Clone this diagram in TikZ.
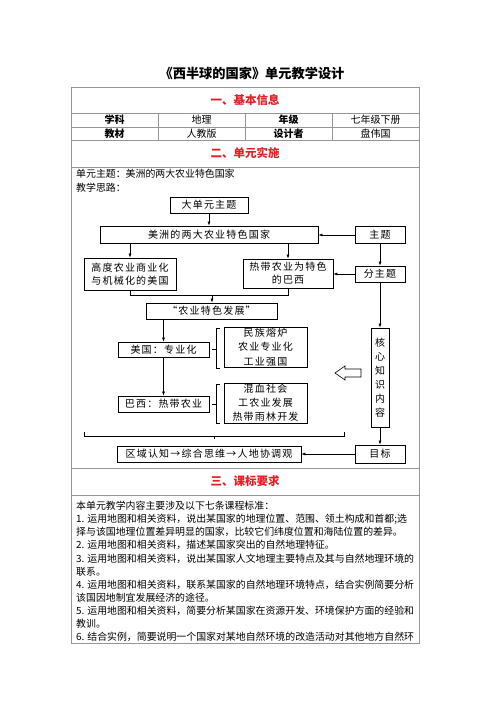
\documentclass[tikz,border=0pt]{standalone}
\usepackage{fontspec}
\setmainfont{Noto Sans CJK SC}
\newfontfamily\boxfont[LetterSpace=12]{Noto Sans CJK SC}
\usetikzlibrary{arrows.meta}
\definecolor{headred}{RGB}{228,30,36}
\definecolor{rulegray}{RGB}{150,150,150}

\begin{document}
\begin{tikzpicture}[x=1pt, y=-1pt,
    box/.style={draw, line width=0.7pt, inner sep=0pt, align=center, font=\boxfont\fontsize{10}{13}\selectfont},
    arr/.style={-{Latex[length=4pt,width=3pt]}, line width=0.6pt},
    rule/.style={draw=rulegray, line width=0.6pt},
    head/.style={text=headred, font=\fontsize{11.5}{14}\selectfont\bfseries},
    cell/.style={font=\fontsize{10}{12}\selectfont},
    bcell/.style={font=\fontsize{10}{12}\selectfont\bfseries},
    body/.style={anchor=west, inner sep=0pt, font=\fontsize{9.9}{13}\selectfont}]

  \useasboundingbox (0,0) rectangle (500,707);

  % title and table frame
  \node[font=\fontsize{13.2}{16}\selectfont\bfseries] (title) at (252,73) {《西半球的国家》单元教学设计};
  \draw[rule] (71,87) rectangle (419,643);
  \foreach \y in {113,127,140,167,468,495}
    \draw[rule] (71,\y) -- (419,\y);
  \foreach \x in {158,245,332}
    \draw[rule] (\x,113) -- (\x,140);

  % basic info
  \node[head] (sec1) at (245,100.5) {一、基本信息};
  \node[bcell] (subj) at (114.5,120) {学科};
  \node[cell] (subjv) at (201.5,120) {地理};
  \node[bcell] (grade) at (288.5,120) {年级};
  \node[cell] (gradev) at (375.5,120) {七年级下册};
  \node[bcell] (book) at (114.5,133.5) {教材};
  \node[cell] (bookv) at (201.5,133.5) {人教版};
  \node[bcell] (auth) at (288.5,133.5) {设计者};
  \node[cell] (authv) at (375.5,133.5) {盘伟国};

  % unit plan
  \node[head] (sec2) at (245,153.5) {二、单元实施};
  \node[body] (topic) at (76,174) {单元主题：美洲的两大农业特色国家};
  \node[body] (idea) at (76,187.3) {教学思路：};

  \node[box, minimum width=78, minimum height=16] (big) at (209,205) {大单元主题};
  \node[box, minimum width=218, minimum height=17] (theme) at (209,234.5) {美洲的两大农业特色国家};
  \node[box, minimum width=50, minimum height=16.5] (zhuti) at (380,235) {主题};
  \node[box, minimum width=92, minimum height=32] (us) at (130,274) {高度农业商业化\\与机械化的美国};
  \node[box, minimum width=90, minimum height=29] (br) at (288,273.5) {热带农业为特色\\的巴西};
  \node[box, minimum width=50, minimum height=16] (fzt) at (380,274) {分主题};
  \node[box, minimum width=131, minimum height=16] (dev) at (211.5,311) {“农业特色发展”};
  \node[box, minimum width=91, minimum height=15] (usp) at (163.5,349.5) {美国：专业化};
  \node[box, minimum width=91, minimum height=16] (brp) at (163.5,404) {巴西：热带农业};
  \node[box, minimum width=83, minimum height=40, font=\boxfont\fontsize{10}{14.5}\selectfont] (usk) at (265.5,347) {民族熔炉\\农业专业化\\工业强国};
  \node[box, minimum width=83, minimum height=40, font=\boxfont\fontsize{10}{14}\selectfont] (brk) at (265.5,403) {混血社会\\工农业发展\\热带雨林开发};
  \node[box, minimum width=18, minimum height=99, font=\boxfont\fontsize{10}{14}\selectfont] (core) at (380,377.5) {核\\心\\知\\识\\内\\容};
  \node[box, minimum width=50, minimum height=18] (goal) at (380,454) {目标};
  \node[box, minimum width=184, minimum height=16] (lit) at (209,454) {区域认知→综合思维→人地协调观};

  \draw[arr] (big) -- (theme);
  \draw[arr] (zhuti.west) -- (zhuti.west -| theme.east);
  \draw[arr] (us |- theme.south) -- (us.north);
  \draw[arr] (br |- theme.south) -- (br.north);
  \draw[arr] (zhuti) -- (fzt);
  \draw[arr] (fzt.west) -- (fzt.west -| br.east);
  \coordinate (jn) at (212,295);
  \draw[line width=0.6pt] (us.south) |- (br.south |- jn) -- (br.south);
  \draw[arr] (jn) -- (jn |- dev.north);
  \draw[arr] (usp |- dev.south) -- (usp.north);
  \draw[arr] (usp) -- (brp);
  \draw[arr] (fzt) -- (core);
  \draw[arr] (core) -- (goal);
  \draw[arr] (goal) -- (lit);

  % brackets
  \draw[line width=0.6pt] ([xshift=3pt]usp.east) -- (usp.east -| 216,0);
  \draw[line width=0.6pt] (220,328) -- (216,328) -- (216,368) -- (220,368);
  \draw[line width=0.6pt] ([xshift=3pt]brp.east) -- (brp.east -| 216,0);
  \draw[line width=0.6pt] (220,384) -- (216,384) -- (216,423) -- (220,423);
  \draw[line width=0.6pt] (84,432) -- (84,436) -- (344,436) -- (344,432);
  \draw[line width=0.6pt] (214,436) -- (214,439);
  % hollow arrow
  \draw[line width=0.6pt] (335,373) -- (345,366) -- (345,369) -- (361,369) -- (361,377)
    -- (345,377) -- (345,380) -- cycle;

  % standards
  \node[head] (sec3) at (245,481.5) {三、课标要求};
  \foreach \t [count=\i from 0] in {
      本单元教学内容主要涉及以下七条课程标准：,
      1. 运用地图和相关资料，说出某国家的地理位置、范围、领土构成和首都;选,
      择与该国地理位置差异明显的国家，比较它们纬度位置和海陆位置的差异。,
      2. 运用地图和相关资料，描述某国家突出的自然地理特征。,
      3. 运用地图和相关资料，说出某国家人文地理主要特点及其与自然地理环境的,
      联系。,
      4. 运用地图和相关资料，联系某国家的自然地理环境特点，结合实例简要分析,
      该国因地制宜发展经济的途径。,
      5. 运用地图和相关资料，简要分析某国家在资源开发、环境保护方面的经验和,
      教训。,
      6. 结合实例，简要说明一个国家对某地自然环境的改造活动对其他地方自然环}
    \node[body] (ln\i) at (76,506+13.1*\i) {\t};
\end{tikzpicture}
\end{document}
